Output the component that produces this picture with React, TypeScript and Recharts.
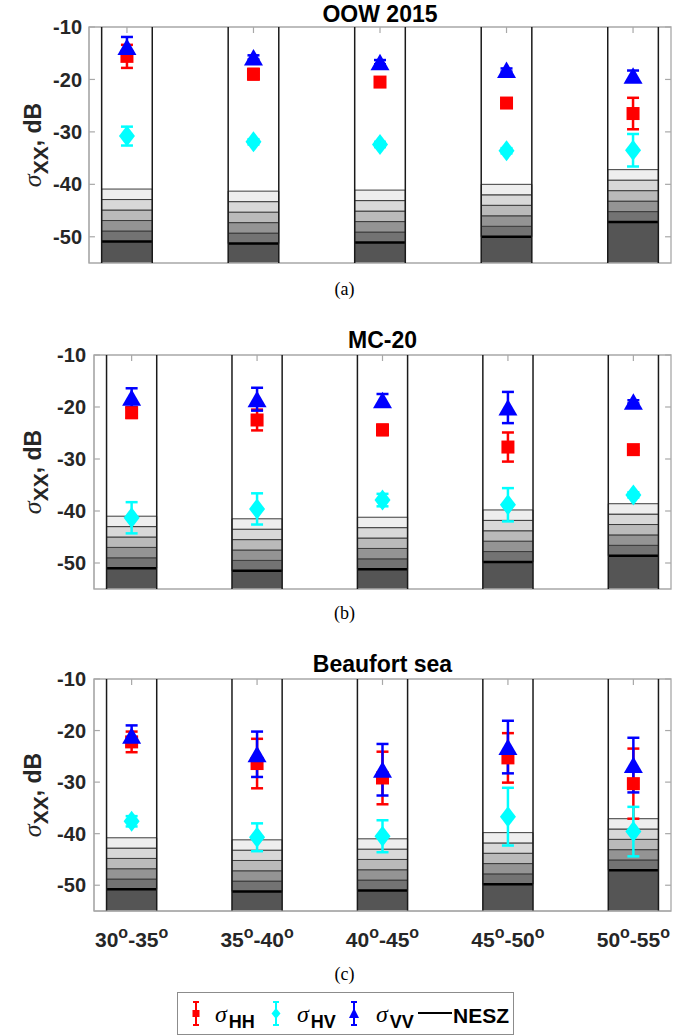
import React from 'react';
import {
  ComposedChart,
  Scatter,
  XAxis,
  YAxis,
  ErrorBar,
  ReferenceArea,
  ReferenceLine,
} from 'recharts';

// incidence angle bins (bottom axis)
const angleBins = [
  ['30', '35'],
  ['35', '40'],
  ['40', '45'],
  ['45', '50'],
  ['50', '55'],
];
const binPos = [1, 2, 3, 4, 5];
const yTicks = [-50, -40, -30, -20, -10];
const xDomain = [0.7, 5.3];
const yDomain = [-55, -10];

// (a) OOW 2015
const oowHH = [-15.6, -19.0, -20.5, -24.5, -26.5];
const oowHHErr = [2.2, 1.0, 0.9, 0.3, 3.0];
const oowHV = [-30.8, -31.9, -32.4, -33.6, -33.5];
const oowHVErr = [1.8, 0.5, 0.5, 0.5, 3.1];
const oowVV = [-13.8, -15.8, -16.7, -18.2, -19.3];
const oowVVErr = [1.9, 0.4, 0.4, 0.3, 1.0];
const oowNESZ = [-50.9, -51.3, -51.1, -50.0, -47.2];

// (b) MC-20
const mcHH = [-21.1, -22.5, -24.4, -27.7, -28.2];
const mcHHErr = [1.0, 2.0, 1.0, 2.8, 0.3];
const mcHV = [-41.3, -39.6, -37.9, -38.8, -36.9];
const mcHVErr = [3.0, 3.0, 1.2, 3.2, 0.5];
const mcVV = [-18.2, -18.5, -18.7, -20.1, -19.0];
const mcVVErr = [1.8, 2.2, 1.2, 3.0, 0.3];
const mcNESZ = [-51.0, -51.5, -51.2, -49.8, -48.6];

// (c) Beaufort sea
const bsHH = [-22.2, -26.4, -29.2, -25.3, -30.3];
const bsHHErr = [2.0, 4.8, 5.1, 4.8, 6.8];
const bsHV = [-37.6, -40.7, -40.5, -36.7, -39.6];
const bsHVErr = [1.0, 2.7, 3.1, 5.6, 4.8];
const bsVV = [-21.0, -24.6, -27.6, -23.2, -26.7];
const bsVVErr = [2.0, 4.4, 5.0, 5.1, 5.3];
const bsNESZ = [-50.8, -51.2, -51.0, -49.8, -47.1];

const SANS = '"Liberation Sans", Arial, sans-serif';
const SERIF = '"Liberation Serif", "Times New Roman", serif';
const AXIS_GRAY = '#a8a8a8';
const bandShades = ['#737373', '#949494', '#bababa', '#d8d8d8', '#eeeeee'];
const HALF = 0.2;
// inward tick lengths in data units (~6px)
const TICK_X = 0.047;
const TICK_Y = 1.15;

const pts = (vals: number[], errs: number[]) =>
  vals.map((y, i) => ({ x: binPos[i], y, err: errs[i] }));

const Square = (p: any) => (
  <rect x={p.cx - 6.5} y={p.cy - 6.5} width={13} height={13} fill="#ff0000" />
);
const Diamond = (p: any) => (
  <polygon
    points={`${p.cx},${p.cy - 10.5} ${p.cx + 8},${p.cy} ${p.cx},${p.cy + 10.5} ${p.cx - 8},${p.cy}`}
    fill="#00ffff"
  />
);
const Triangle = (p: any) => (
  <polygon
    points={`${p.cx},${p.cy - 8.5} ${p.cx + 9.5},${p.cy + 8} ${p.cx - 9.5},${p.cy + 8}`}
    fill="#0000ff"
  />
);

function AngleTick({ x, y, payload }: any) {
  const bin = angleBins[binPos.indexOf(payload.value)];
  if (!bin) return null;
  return (
    <text x={x} y={y + 28} textAnchor="middle" fontFamily={SANS} fontWeight={700} fontSize={21} fill="#262626">
      <tspan>{bin[0]}</tspan>
      <tspan dy={-9} fontSize={16}>o</tspan>
      <tspan dy={9}>-{bin[1]}</tspan>
      <tspan dy={-9} fontSize={16}>o</tspan>
    </text>
  );
}

interface PanelProps {
  top: number;
  height: number;
  marginTop: number;
  marginBottom: number;
  axisWidth: number;
  xAxisHeight: number;
  showTicks: boolean;
  hh: number[];
  hhErr: number[];
  hv: number[];
  hvErr: number[];
  vv: number[];
  vvErr: number[];
  nesz: number[];
}

function Panel(props: PanelProps) {
  const { nesz } = props;
  return (
    <div style={{ position: 'absolute', left: 0, top: props.top }}>
      <ComposedChart
        width={699}
        height={props.height}
        margin={{ top: props.marginTop, right: 28, bottom: props.marginBottom, left: 0 }}
      >
        <XAxis
          dataKey="x"
          type="number"
          domain={xDomain}
          ticks={binPos}
          allowDataOverflow
          height={props.xAxisHeight}
          axisLine={{ stroke: AXIS_GRAY }}
          tickLine={false}
          tick={props.showTicks ? <AngleTick /> : false}
        />
        <YAxis
          type="number"
          domain={yDomain}
          ticks={yTicks}
          allowDataOverflow
          width={props.axisWidth}
          axisLine={{ stroke: AXIS_GRAY }}
          tickLine={false}
          tickMargin={props.axisWidth < 90 ? 1 : 2}
          tick={{ fontSize: 20, fontWeight: 700, fill: '#262626', fontFamily: SANS }}
        />

        {nesz.map((n, i) => (
          <ReferenceArea
            key={`base-${i}`}
            x1={binPos[i] - HALF}
            x2={binPos[i] + HALF}
            y1={yDomain[0]}
            y2={n}
            fill="#555555"
            fillOpacity={1}
            stroke="none"
          />
        ))}
        {nesz.map((n, i) =>
          bandShades.map((shade, k) => (
            <ReferenceArea
              key={`band-${i}-${k}`}
              x1={binPos[i] - HALF}
              x2={binPos[i] + HALF}
              y1={n + 2 * k}
              y2={n + 2 * (k + 1)}
              fill={shade}
              fillOpacity={1}
              stroke="#3c3c3c"
              strokeWidth={1}
            />
          ))
        )}
        {nesz.map((n, i) => (
          <ReferenceLine
            key={`nesz-${i}`}
            segment={[
              { x: binPos[i] - HALF, y: n },
              { x: binPos[i] + HALF, y: n },
            ]}
            stroke="#000"
            strokeWidth={2.5}
          />
        ))}
        {binPos.map((c) => (
          <ReferenceLine
            key={`l-${c}`}
            segment={[
              { x: c - HALF, y: yDomain[0] },
              { x: c - HALF, y: yDomain[1] },
            ]}
            stroke="#1a1a1a"
            strokeWidth={1.5}
          />
        ))}
        {binPos.map((c) => (
          <ReferenceLine
            key={`r-${c}`}
            segment={[
              { x: c + HALF, y: yDomain[0] },
              { x: c + HALF, y: yDomain[1] },
            ]}
            stroke="#1a1a1a"
            strokeWidth={1.5}
          />
        ))}

        {/* axes frame and inward ticks */}
        <ReferenceArea
          x1={xDomain[0]}
          x2={xDomain[1]}
          y1={yDomain[0]}
          y2={yDomain[1]}
          fill="none"
          stroke={AXIS_GRAY}
          strokeWidth={1.3}
        />
        {binPos.map((c) => (
          <ReferenceLine
            key={`tt-${c}`}
            segment={[
              { x: c, y: yDomain[1] },
              { x: c, y: yDomain[1] - TICK_Y },
            ]}
            stroke={AXIS_GRAY}
            strokeWidth={1.2}
          />
        ))}
        {yTicks.map((t) => (
          <ReferenceLine
            key={`rt-${t}`}
            segment={[
              { x: xDomain[1], y: t },
              { x: xDomain[1] - TICK_X, y: t },
            ]}
            stroke={AXIS_GRAY}
            strokeWidth={1.2}
          />
        ))}
        {yTicks.map((t) => (
          <ReferenceLine
            key={`lt-${t}`}
            segment={[
              { x: xDomain[0], y: t },
              { x: xDomain[0] + TICK_X, y: t },
            ]}
            stroke={AXIS_GRAY}
            strokeWidth={1.2}
          />
        ))}

        <Scatter data={pts(props.hh, props.hhErr)} dataKey="y" shape={Square} isAnimationActive={false}>
          <ErrorBar dataKey="err" direction="y" width={6} strokeWidth={2.5} stroke="#ff0000" />
        </Scatter>
        <Scatter data={pts(props.hv, props.hvErr)} dataKey="y" shape={Diamond} isAnimationActive={false}>
          <ErrorBar dataKey="err" direction="y" width={6} strokeWidth={2.5} stroke="#00ffff" />
        </Scatter>
        <Scatter data={pts(props.vv, props.vvErr)} dataKey="y" shape={Triangle} isAnimationActive={false}>
          <ErrorBar dataKey="err" direction="y" width={6} strokeWidth={2.5} stroke="#0000ff" />
        </Scatter>
      </ComposedChart>
    </div>
  );
}

function YLabel({ cy }: { cy: number }) {
  return (
    <text transform={`translate(41, ${cy}) rotate(-90)`} textAnchor="middle" fill="#262626">
      <tspan fontFamily={SERIF} fontStyle="italic" fontSize={26}>σ</tspan>
      <tspan fontFamily={SANS} fontWeight={700} fontSize={21} dy={7}>XX</tspan>
      <tspan fontFamily={SANS} fontWeight={700} fontSize={23} dy={-7}>, dB</tspan>
    </text>
  );
}

function LegendIcon({ x, color, kind }: { x: number; color: string; kind: string }) {
  return (
    <g stroke={color} fill={color}>
      <line x1={x} y1={10} x2={x} y2={33} strokeWidth={2} />
      <line x1={x - 3} y1={10} x2={x + 3} y2={10} strokeWidth={2} />
      <line x1={x - 3} y1={33} x2={x + 3} y2={33} strokeWidth={2} />
      {kind === 'square' && <rect x={x - 3.5} y={18} width={7} height={7} stroke="none" />}
      {kind === 'diamond' && (
        <polygon points={`${x},${16} ${x + 4.5},${21.5} ${x},${27} ${x - 4.5},${21.5}`} stroke="none" />
      )}
      {kind === 'triangle' && (
        <polygon points={`${x},${16} ${x + 5},${26} ${x - 5},${26}`} stroke="none" />
      )}
    </g>
  );
}

function LegendEntry({ x, sub }: { x: number; sub: string }) {
  return (
    <text x={x} y={30} fill="#000">
      <tspan fontFamily={SERIF} fontStyle="italic" fontSize={24}>σ</tspan>
      <tspan fontFamily={SANS} fontWeight={700} fontSize={18} dy={6} dx={2}>{sub}</tspan>
    </text>
  );
}

export default function App() {
  return (
    <div style={{ position: 'absolute', left: 0, top: 0, width: 699, height: 1036, background: '#fff' }}>
      <Panel
        top={0}
        height={270}
        marginTop={27}
        marginBottom={7}
        axisWidth={89}
        xAxisHeight={0}
        showTicks={false}
        hh={oowHH}
        hhErr={oowHHErr}
        hv={oowHV}
        hvErr={oowHVErr}
        vv={oowVV}
        vvErr={oowVVErr}
        nesz={oowNESZ}
      />
      <Panel
        top={330}
        height={265}
        marginTop={25}
        marginBottom={6}
        axisWidth={94}
        xAxisHeight={0}
        showTicks={false}
        hh={mcHH}
        hhErr={mcHHErr}
        hv={mcHV}
        hvErr={mcHVErr}
        vv={mcVV}
        vvErr={mcVVErr}
        nesz={mcNESZ}
      />
      <Panel
        top={640}
        height={320}
        marginTop={39}
        marginBottom={9}
        axisWidth={94}
        xAxisHeight={40}
        showTicks
        hh={bsHH}
        hhErr={bsHHErr}
        hv={bsHV}
        hvErr={bsHVErr}
        vv={bsVV}
        vvErr={bsVVErr}
        nesz={bsNESZ}
      />

      <svg
        width={699}
        height={1036}
        style={{ position: 'absolute', left: 0, top: 0, pointerEvents: 'none' }}
      >
        <g fontFamily={SANS} fontWeight={700} fontSize={23} fill="#000" textAnchor="middle">
          <text x={380} y={21.5}>OOW 2015</text>
          <text x={382.5} y={348}>MC-20</text>
          <text x={382.5} y={672}>Beaufort sea</text>
        </g>
        <g fontFamily={SERIF} fontSize={18} fill="#000" textAnchor="middle">
          <text x={344.5} y={295}>(a)</text>
          <text x={344.5} y={619}>(b)</text>
          <text x={344.5} y={980}>(c)</text>
        </g>
        <YLabel cy={145} />
        <YLabel cy={472} />
        <YLabel cy={795} />

        <g transform="translate(177, 992)">
          <rect x={0.5} y={0.5} width={336} height={42} fill="#fff" stroke="#8c8c8c" strokeWidth={1} />
          <LegendIcon x={19} color="#ff0000" kind="square" />
          <LegendEntry x={38} sub="HH" />
          <LegendIcon x={99} color="#00ffff" kind="diamond" />
          <LegendEntry x={120} sub="HV" />
          <LegendIcon x={177} color="#0000ff" kind="triangle" />
          <LegendEntry x={199} sub="VV" />
          <line x1={241} y1={21} x2={275} y2={21} stroke="#000" strokeWidth={2} />
          <text x={276} y={31} fontFamily={SANS} fontWeight={700} fontSize={21} fill="#000">NESZ</text>
        </g>
      </svg>
    </div>
  );
}
